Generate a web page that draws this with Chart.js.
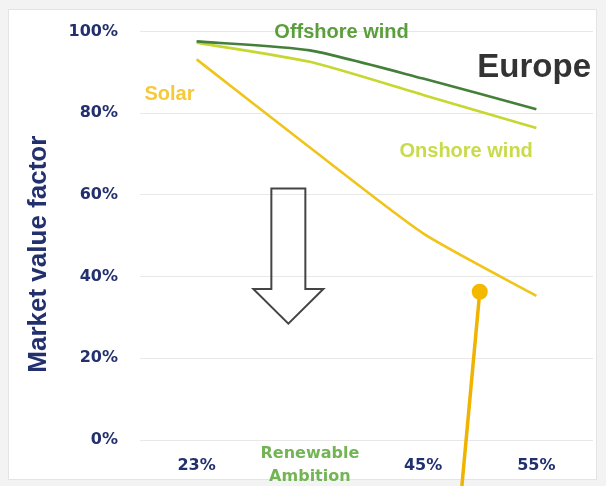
<!DOCTYPE html>
<html>
<head>
<meta charset="utf-8">
<script src="https://cdn.jsdelivr.net/npm/chart.js@4.4.1/dist/chart.umd.min.js"></script>
<style>
  html, body { margin: 0; padding: 0; background: #f3f3f3; }
  #wrap { position: relative; width: 606px; height: 486px; }
</style>
</head>
<body>
<div id="wrap"><canvas id="chart"></canvas></div>
<script>
// renewable share scenarios along the x axis
const categories = ['23%', ['Renewable', 'Ambition'], '45%', '55%'];
// market value factor in % of the average price
const offshoreWind = [97.6, 95.4, 88.5, 81.0];
const onshoreWind = [97.3, 92.6, 84.5, 76.4];
const solar = [93.2, 71.6, 50.6, 35.3];
const yTicks = [0, 20, 40, 60, 80, 100];

// names written beside the lines: text, x (category index), y (%), colour
const lineLabels = [
  ['Offshore wind', 1.28, 99.7, '#5b9e3c'],
  ['Solar', -0.24, 84.7, '#f6c83a'],
  ['Onshore wind', 2.38, 70.6, '#c9da4a']
];
// hollow arrow: x (category index), top, end of shaft, tip (%)
const arrowAt = [0.81, 61.6, 37, 28.5];
// marker dot with its leader line: x (category index), y (%)
const markerAt = [2.5, 36.3];

const NAVY = '#22306e';

const decorations = {
  id: 'decorations',
  beforeDraw(chart) {
    const { ctx } = chart;
    ctx.save();
    ctx.fillStyle = '#f3f3f3';
    ctx.fillRect(0, 0, chart.width, chart.height);
    ctx.fillStyle = '#ffffff';
    ctx.fillRect(8, 9, 589, 471);
    ctx.strokeStyle = '#e4e4e4';
    ctx.lineWidth = 1;
    ctx.strokeRect(8.5, 9.5, 588, 470);
    ctx.restore();
  },
  afterDraw(chart) {
    const { ctx, chartArea } = chart;
    const xs = chart.scales.x, ys = chart.scales.y;
    ctx.save();

    // axis title
    ctx.save();
    ctx.translate(39, ys.getPixelForValue(45.5));
    ctx.rotate(-Math.PI / 2);
    ctx.font = 'bold 26px "Liberation Sans", Arial, sans-serif';
    ctx.fillStyle = NAVY;
    ctx.textAlign = 'center';
    ctx.textBaseline = 'middle';
    ctx.fillText('Market value factor', 0, 0);
    ctx.restore();

    // region name
    ctx.font = 'bold 33px "Liberation Sans", Arial, sans-serif';
    ctx.fillStyle = '#333333';
    ctx.textAlign = 'right';
    ctx.textBaseline = 'middle';
    ctx.fillText('Europe', chartArea.right - 2, ys.getPixelForValue(91));

    // line names
    ctx.font = 'bold 20px "Liberation Sans", Arial, sans-serif';
    ctx.textAlign = 'center';
    lineLabels.forEach(([text, xi, yv, color]) => {
      ctx.fillStyle = color;
      ctx.fillText(text, xs.getPixelForValue(xi), ys.getPixelForValue(yv));
    });

    // hollow down arrow
    const cx = xs.getPixelForValue(arrowAt[0]);
    const yTop = ys.getPixelForValue(arrowAt[1]);
    const yShaft = ys.getPixelForValue(arrowAt[2]);
    const yTip = ys.getPixelForValue(arrowAt[3]);
    ctx.beginPath();
    ctx.moveTo(cx - 17, yTop);
    ctx.lineTo(cx + 17, yTop);
    ctx.lineTo(cx + 17, yShaft);
    ctx.lineTo(cx + 35, yShaft);
    ctx.lineTo(cx, yTip);
    ctx.lineTo(cx - 35, yShaft);
    ctx.lineTo(cx - 17, yShaft);
    ctx.closePath();
    ctx.strokeStyle = '#444444';
    ctx.lineWidth = 2;
    ctx.lineJoin = 'miter';
    ctx.stroke();

    // marker with leader line running off the bottom
    const mx = xs.getPixelForValue(markerAt[0]);
    const my = ys.getPixelForValue(markerAt[1]);
    const lean = 0.092;
    ctx.beginPath();
    ctx.moveTo(mx, my);
    ctx.lineTo(mx - (chart.height - my) * lean, chart.height);
    ctx.strokeStyle = '#f0b400';
    ctx.lineWidth = 3.5;
    ctx.stroke();
    ctx.beginPath();
    ctx.arc(mx, my, 8, 0, Math.PI * 2);
    ctx.fillStyle = '#f5b800';
    ctx.fill();

    ctx.restore();
  }
};

const lineStyle = { pointRadius: 0, borderWidth: 2.6, tension: 0.2, fill: false };

new Chart(document.getElementById('chart'), {
  type: 'line',
  data: {
    labels: categories,
    datasets: [
      { label: 'Offshore wind', data: offshoreWind, borderColor: '#45803a', ...lineStyle },
      { label: 'Onshore wind', data: onshoreWind, borderColor: '#c6d730', ...lineStyle },
      { label: 'Solar', data: solar, borderColor: '#f0c419', ...lineStyle }
    ]
  },
  options: {
    responsive: true,
    maintainAspectRatio: false,
    animation: false,
    layout: { padding: { top: 29, right: 13, left: 0, bottom: 0 } },
    plugins: {
      legend: { display: false },
      tooltip: { enabled: false }
    },
    scales: {
      x: {
        offset: true,
        grid: { display: false },
        border: { display: false },
        afterFit: s => { s.height = 46; },
        ticks: {
          autoSkip: false,
          maxRotation: 0,
          padding: 6,
          crossAlign: 'center',
          color: c => c.index === 1 ? '#73b455' : NAVY,
          font: c => ({
            family: 'DejaVu Sans',
            size: 16,
            weight: 'bold',
            lineHeight: '23px'
          })
        }
      },
      y: {
        min: 0,
        max: 100,
        afterFit: s => { s.width = 140; },
        afterBuildTicks: s => { s.ticks = yTicks.map(v => ({ value: v })); },
        grid: { color: '#e8e8e8', drawTicks: false },
        border: { display: false },
        ticks: {
          padding: 22,
          color: NAVY,
          font: { family: 'DejaVu Sans', size: 16, weight: 'bold' },
          callback: v => v + '%'
        }
      }
    }
  },
  plugins: [decorations]
});
</script>
</body>
</html>
